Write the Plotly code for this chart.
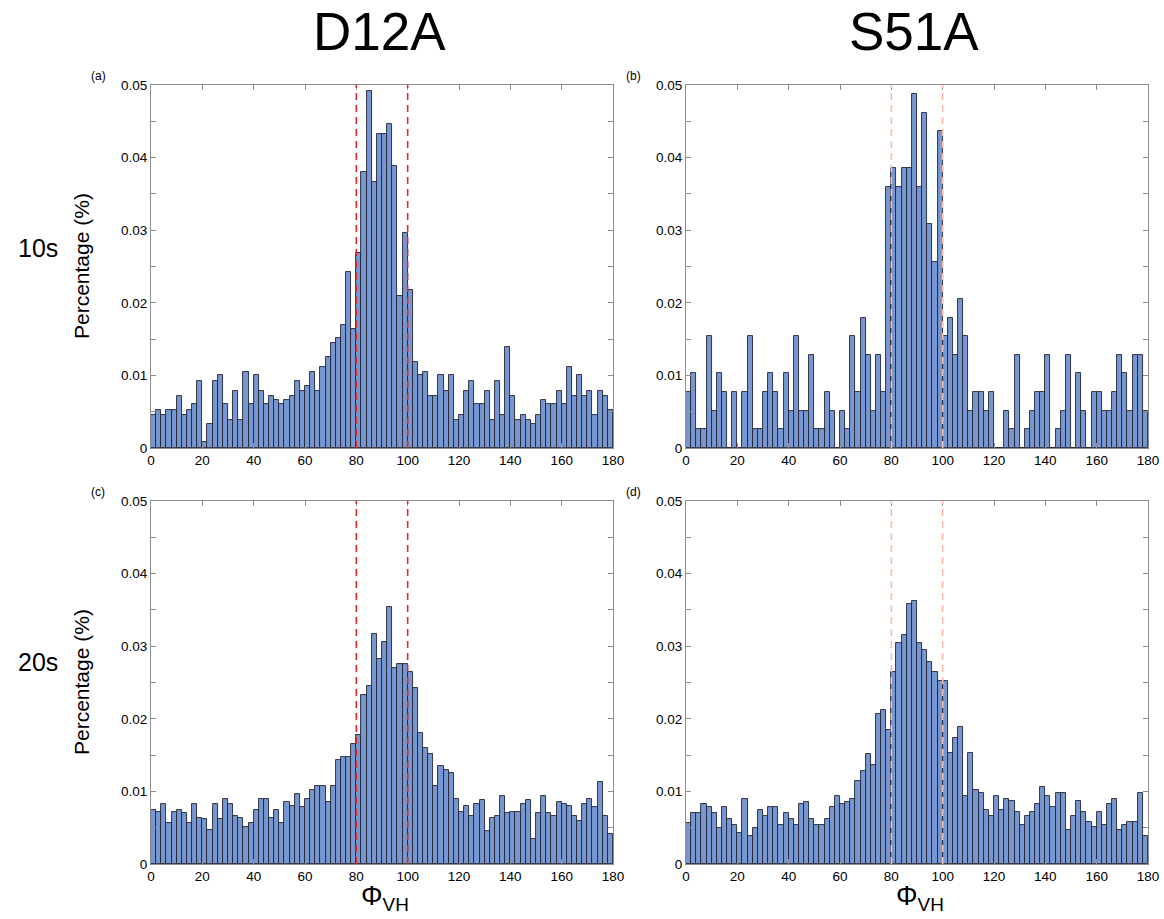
import numpy as np
import plotly.graph_objects as go

# ---------------- data ----------------
bin_edges_start = list(range(0, 180, 2))          # 2-degree bins 0..180
x_ticks = [0, 20, 40, 60, 80, 100, 120, 140, 160, 180]
y_tickvals = [0, 0.01, 0.02, 0.03, 0.04, 0.05]
y_ticktext = ["0", "0.01", "0.02", "0.03", "0.04", "0.05"]
guide_lines = [80, 100]

d12a_10s = [
    0.0045, 0.0053, 0.0045, 0.0053, 0.0053, 0.0072, 0.0045, 0.0053, 0.0060, 0.0092,
    0.0008, 0.0033, 0.0092, 0.0100, 0.0060, 0.0039, 0.0078, 0.0039, 0.0105, 0.0060,
    0.0100, 0.0078, 0.0060, 0.0072, 0.0066, 0.0060, 0.0066, 0.0072, 0.0092, 0.0078,
    0.0085, 0.0105, 0.0078, 0.0112, 0.0125, 0.0145, 0.0151, 0.0170, 0.0243, 0.0164,
    0.0268, 0.0380, 0.0492, 0.0367, 0.0433, 0.0433, 0.0446, 0.0388, 0.0210, 0.0296,
    0.0217, 0.0118, 0.0101, 0.0105, 0.0072, 0.0072, 0.0100, 0.0078, 0.0100, 0.0039,
    0.0046, 0.0078, 0.0092, 0.0060, 0.0060, 0.0078, 0.0039, 0.0092, 0.0046, 0.0139,
    0.0072, 0.0039, 0.0046, 0.0039, 0.0033, 0.0046, 0.0066, 0.0060, 0.0060, 0.0078,
    0.0060, 0.0112, 0.0072, 0.0100, 0.0072, 0.0078, 0.0046, 0.0078, 0.0072, 0.0053,
]

s51a_10s = [
    0.0077, 0.0103, 0.0026, 0.0026, 0.0154, 0.0051, 0.0103, 0.0077, 0.0000, 0.0077,
    0.0000, 0.0077, 0.0154, 0.0026, 0.0026, 0.0077, 0.0103, 0.0077, 0.0026, 0.0103,
    0.0051, 0.0154, 0.0051, 0.0051, 0.0128, 0.0026, 0.0026, 0.0077, 0.0051, 0.0000,
    0.0051, 0.0026, 0.0154, 0.0077, 0.0179, 0.0128, 0.0051, 0.0128, 0.0077, 0.0359,
    0.0385, 0.0359, 0.0385, 0.0385, 0.0487, 0.0359, 0.0462, 0.0308, 0.0256, 0.0436,
    0.0154, 0.0179, 0.0128, 0.0205, 0.0154, 0.0051, 0.0077, 0.0077, 0.0051, 0.0077,
    0.0000, 0.0000, 0.0051, 0.0026, 0.0128, 0.0000, 0.0026, 0.0051, 0.0077, 0.0077,
    0.0128, 0.0000, 0.0026, 0.0051, 0.0128, 0.0000, 0.0103, 0.0051, 0.0000, 0.0077,
    0.0077, 0.0051, 0.0051, 0.0077, 0.0128, 0.0103, 0.0051, 0.0128, 0.0128, 0.0051,
]

d12a_20s = [
    0.0074, 0.0072, 0.0083, 0.0056, 0.0072, 0.0074, 0.0070, 0.0056, 0.0083, 0.0064,
    0.0062, 0.0047, 0.0083, 0.0062, 0.0090, 0.0083, 0.0066, 0.0064, 0.0051, 0.0056,
    0.0074, 0.0090, 0.0090, 0.0064, 0.0074, 0.0056, 0.0086, 0.0080, 0.0097, 0.0078,
    0.0090, 0.0102, 0.0107, 0.0107, 0.0086, 0.0107, 0.0143, 0.0148, 0.0148, 0.0165,
    0.0178, 0.0233, 0.0245, 0.0317, 0.0283, 0.0306, 0.0354, 0.0270, 0.0276, 0.0276,
    0.0265, 0.0243, 0.0181, 0.0160, 0.0151, 0.0108, 0.0135, 0.0129, 0.0126, 0.0090,
    0.0072, 0.0080, 0.0066, 0.0083, 0.0088, 0.0045, 0.0064, 0.0066, 0.0094, 0.0070,
    0.0072, 0.0072, 0.0083, 0.0088, 0.0034, 0.0070, 0.0094, 0.0070, 0.0066, 0.0086,
    0.0083, 0.0080, 0.0066, 0.0059, 0.0083, 0.0090, 0.0078, 0.0113, 0.0066, 0.0042,
]

s51a_20s = [
    0.0057, 0.0070, 0.0070, 0.0083, 0.0078, 0.0070, 0.0050, 0.0078, 0.0062, 0.0054,
    0.0043, 0.0089, 0.0039, 0.0050, 0.0074, 0.0066, 0.0078, 0.0078, 0.0054, 0.0070,
    0.0062, 0.0054, 0.0083, 0.0086, 0.0062, 0.0054, 0.0054, 0.0062, 0.0078, 0.0094,
    0.0083, 0.0086, 0.0089, 0.0114, 0.0128, 0.0152, 0.0136, 0.0207, 0.0212, 0.0185,
    0.0264, 0.0304, 0.0315, 0.0358, 0.0362, 0.0304, 0.0295, 0.0278, 0.0264, 0.0252,
    0.0252, 0.0153, 0.0173, 0.0189, 0.0094, 0.0153, 0.0102, 0.0098, 0.0074, 0.0066,
    0.0094, 0.0074, 0.0089, 0.0087, 0.0071, 0.0054, 0.0066, 0.0071, 0.0083, 0.0106,
    0.0094, 0.0079, 0.0098, 0.0098, 0.0047, 0.0066, 0.0087, 0.0071, 0.0058, 0.0051,
    0.0071, 0.0054, 0.0083, 0.0089, 0.0047, 0.0054, 0.0058, 0.0058, 0.0098, 0.0039,
]

# ---------------- figure ----------------
W, H = 1164, 919
FONT = "Liberation Sans, Arial, Helvetica, sans-serif"
BAR_FILL = "rgb(118,151,210)"
BAR_EDGE = "rgb(35,37,50)"
AXIS_COL = "#8e8e8e"

centers = [b + 1 for b in bin_edges_start]

panels = [
    # (data, axis suffix, x-domain px, y-domain px (top,bottom), label, guide colour)
    (d12a_10s, "", (151, 613), (85, 448), "(a)", "rgb(225,40,45)"),
    (s51a_10s, "2", (686, 1148), (85, 448), "(b)", "rgb(248,190,170)"),
    (d12a_20s, "3", (151, 613), (501, 864), "(c)", "rgb(225,40,45)"),
    (s51a_20s, "4", (686, 1148), (501, 864), "(d)", "rgb(248,190,170)"),
]

fig = go.Figure()
layout = dict(
    width=W, height=H, autosize=False,
    margin=dict(l=0, r=0, t=0, b=0, pad=0, autoexpand=False),
    paper_bgcolor="white", plot_bgcolor="white",
    showlegend=False, bargap=0,
    font=dict(family=FONT, color="black"),
)
shapes = []
annotations = []

for data, sfx, (x0, x1), (yt, yb), label, gcol in panels:
    xa = "x" + sfx
    ya = "y" + sfx
    fig.add_trace(go.Bar(
        x=centers, y=data, width=2,
        marker=dict(color=BAR_FILL, line=dict(color=BAR_EDGE, width=0.9)),
        xaxis=xa, yaxis=ya, hoverinfo="x+y",
    ))
    layout["xaxis" + sfx] = dict(
        domain=[x0 / W, x1 / W], range=[0, 180], anchor=ya, automargin=False,
        tickvals=x_ticks, ticks="inside", ticklen=5, tickcolor=AXIS_COL,
        showline=True, linecolor=AXIS_COL, linewidth=1, mirror="ticks",
        showgrid=False, zeroline=False,
        tickfont=dict(size=13.5, family=FONT, color="black"),
    )
    layout["yaxis" + sfx] = dict(
        domain=[1 - yb / H, 1 - yt / H], range=[0, 0.05], anchor=xa, automargin=False,
        tickvals=y_tickvals, ticktext=y_ticktext,
        ticks="inside", ticklen=5, tickcolor=AXIS_COL,
        minor=dict(dtick=0.005, tick0=0, ticks="inside", ticklen=5,
                   tickcolor=AXIS_COL, showgrid=False),
        showline=True, linecolor=AXIS_COL, linewidth=1, mirror="ticks",
        showgrid=False, zeroline=False,
        tickfont=dict(size=13.5, family=FONT, color="black"),
    )
    for g in guide_lines:
        shapes.append(dict(
            type="line", xref=xa, yref=ya, x0=g, x1=g, y0=0, y1=0.05,
            line=dict(color=gcol, width=1.6, dash="7px,5px"), layer="above",
        ))
    annotations.append(dict(
        text=label, xref="paper", yref="paper",
        x=(x0 - 53) / W, y=1 - (yt - 9) / H,
        showarrow=False, font=dict(size=12, family=FONT),
        xanchor="center", yanchor="middle",
    ))

# column titles
for txt, xc in [("D12A", 379), ("S51A", 914)]:
    annotations.append(dict(
        text=txt, xref="paper", yref="paper", x=xc / W, y=1 - 31 / H,
        showarrow=False, font=dict(size=53, family=FONT),
        xanchor="center", yanchor="middle",
    ))

# row labels
for txt, yc in [("10s", 248), ("20s", 662)]:
    annotations.append(dict(
        text=txt, xref="paper", yref="paper", x=38 / W, y=1 - yc / H,
        showarrow=False, font=dict(size=25, family=FONT),
        xanchor="center", yanchor="middle",
    ))

# y-axis titles
for yc in [266, 682]:
    annotations.append(dict(
        text="Percentage (%)", xref="paper", yref="paper", x=81 / W, y=1 - yc / H,
        showarrow=False, textangle=-90, font=dict(size=21, family=FONT),
        xanchor="center", yanchor="middle",
    ))

# x-axis titles
for xc in [385, 920]:
    annotations.append(dict(
        text="Φ<sub>VH</sub>", xref="paper", yref="paper", x=xc / W, y=1 - 898 / H,
        showarrow=False, font=dict(size=27, family=FONT),
        xanchor="center", yanchor="middle",
    ))

layout["shapes"] = shapes
layout["annotations"] = annotations
fig.update_layout(**layout)

fig.write_html(
    "out.html",
    config={"displayModeBar": False},
    post_script="document.body.style.margin='0';document.body.style.padding='0';",
)
